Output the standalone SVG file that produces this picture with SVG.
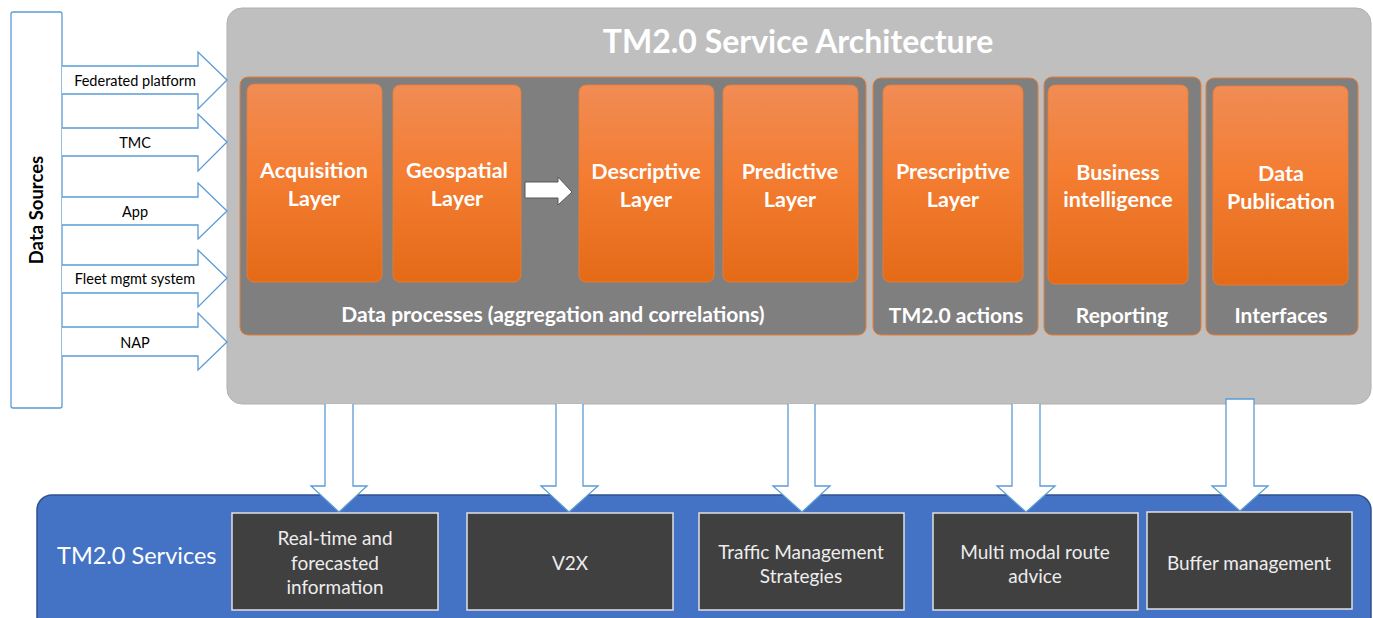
<svg xmlns="http://www.w3.org/2000/svg" width="1373" height="618" viewBox="0 0 1373 618">
<defs>
<linearGradient id="og" x1="0" y1="0" x2="0" y2="1">
<stop offset="0" stop-color="#F08C55"/>
<stop offset="0.45" stop-color="#F47D32"/>
<stop offset="1" stop-color="#E46A17"/>
</linearGradient>
<style>
.ds{fill:#fff;stroke:#5B9BD5;stroke-width:1.3}
.arr{fill:#fff;stroke:#5B9BD5;stroke-width:1.3}
.cont{fill:#7F7F7F;stroke:#ED7D31;stroke-width:1}
.or{fill:url(#og);stroke:#ED7D31;stroke-width:0.8}
.svc{fill:#404040;stroke:#E0E0E0;stroke-width:1.5}
.t{font-family:Lato,"Liberation Sans",sans-serif;text-anchor:middle;dominant-baseline:central}
.ob{fill:#fff;font-weight:bold;font-size:21.5px}
.cl{fill:#fff;font-weight:bold;font-size:21px}
.sm{fill:#000;font-size:14.5px}
.sv{fill:#EDEDED;font-size:19px}
</style>
</defs>

<g id="architecture">
<rect x="227" y="8" width="1144" height="396" rx="15" fill="#BFBFBF" stroke="#B0B0B0" stroke-width="1"/>
<text class="t" x="798" y="40" fill="#fff" font-weight="bold" font-size="32">TM2.0 Service Architecture</text>
</g>

<g id="services">
<rect x="37" y="495" width="1334" height="140" rx="15" fill="#4472C4" stroke="#2F528F" stroke-width="1.5"/>
<text class="t" x="57" y="555" fill="#fff" font-size="23.5" style="text-anchor:start">TM2.0 Services</text>
</g>

<g id="data-sources">
<rect class="ds" x="11" y="12" width="51" height="396" rx="2"/>
<text class="t" transform="translate(36 210) rotate(-90)" fill="#000" font-weight="bold" font-size="18.5">Data Sources</text>
</g>

<g id="data-processes">
<rect class="cont" x="240" y="77" width="626" height="258" rx="8"/>
<text class="t cl" x="553" y="313">Data processes (aggregation and correlations)</text>
</g>
<g id="acquisition">
<rect class="or" x="247" y="84" width="135" height="198" rx="7"/>
<text class="t ob" x="314" y="170">Acquisition</text>
<text class="t ob" x="314" y="198">Layer</text>
</g>
<g id="geospatial">
<rect class="or" x="393" y="85" width="128" height="197" rx="7"/>
<text class="t ob" x="457" y="170">Geospatial</text>
<text class="t ob" x="457" y="198">Layer</text>
</g>
<g id="descriptive">
<rect class="or" x="579" y="85" width="135" height="197" rx="7"/>
<text class="t ob" x="646" y="171">Descriptive</text>
<text class="t ob" x="646" y="199">Layer</text>
</g>
<g id="predictive">
<rect class="or" x="723" y="85" width="135" height="197" rx="7"/>
<text class="t ob" x="790" y="171">Predictive</text>
<text class="t ob" x="790" y="199">Layer</text>
</g>

<g id="tm-actions">
<rect class="cont" x="873" y="78" width="165" height="257" rx="8"/>
<text class="t cl" x="956" y="314">TM2.0 actions</text>
</g>
<g id="prescriptive">
<rect class="or" x="883" y="85" width="140" height="197" rx="7"/>
<text class="t ob" x="953" y="171">Prescriptive</text>
<text class="t ob" x="953" y="199">Layer</text>
</g>

<g id="reporting">
<rect class="cont" x="1044" y="77" width="157" height="258" rx="8"/>
<text class="t cl" x="1122" y="314">Reporting</text>
</g>
<g id="business-intelligence">
<rect class="or" x="1048" y="85" width="140" height="199" rx="7"/>
<text class="t ob" x="1118" y="172">Business</text>
<text class="t ob" x="1118" y="199">intelligence</text>
</g>

<g id="interfaces">
<rect class="cont" x="1206" y="78" width="152" height="257" rx="8"/>
<text class="t cl" x="1281" y="314">Interfaces</text>
</g>
<g id="data-publication">
<rect class="or" x="1213" y="86" width="135" height="199" rx="7"/>
<text class="t ob" x="1281" y="173">Data</text>
<text class="t ob" x="1281" y="201">Publication</text>
</g>

<g id="connectors">
<path class="arr" d="M62 66 H198 V52 L227 80 L198 109 V94 H62"/>
<path class="arr" d="M62 128 H198 V114 L227 142 L198 171 V156 H62"/>
<path class="arr" d="M62 197 H198 V183 L227 211 L198 239 V225 H62"/>
<path class="arr" d="M62 265 H198 V250 L227 278 L198 307 V293 H62"/>
<path class="arr" d="M62 327 H198 V313 L227 342 L198 370 V356 H62"/>
<path d="M525 182 H558 V177 L572 192 L558 205 V198 H525 Z" fill="#fff" stroke="#595959" stroke-width="1"/>
<path class="arr" d="M325 404 V486 H311 L339 512 L367 486 H353 V404"/>
<path class="arr" d="M556 404 V486 H541 L569 512 L598 486 H583 V404"/>
<path class="arr" d="M788 404 V486 H773 L802 512 L830 486 H815 V404"/>
<path class="arr" d="M1012 404 V486 H997 L1026 512 L1055 486 H1040 V404"/>
<path class="arr" d="M1226 399 H1254 V486 H1268 L1240 511 L1212 486 H1226 Z"/>
</g>
<g id="source-labels">
<text class="t sm" x="135" y="80">Federated platform</text>
<text class="t sm" x="135" y="142">TMC</text>
<text class="t sm" x="135" y="211">App</text>
<text class="t sm" x="135" y="278">Fleet mgmt system</text>
<text class="t sm" x="135" y="342">NAP</text>
</g>

<g id="svc-realtime">
<rect class="svc" x="232" y="513" width="206" height="97"/>
<text class="t sv" x="335" y="537">Real-time and</text>
<text class="t sv" x="335" y="562">forecasted</text>
<text class="t sv" x="335" y="586">information</text>
</g>
<g id="svc-v2x">
<rect class="svc" x="467" y="513" width="206" height="97"/>
<text class="t sv" x="570" y="562">V2X</text>
</g>
<g id="svc-traffic">
<rect class="svc" x="699" y="513" width="205" height="97"/>
<text class="t sv" x="801" y="551">Traffic Management</text>
<text class="t sv" x="801" y="575">Strategies</text>
</g>
<g id="svc-multimodal">
<rect class="svc" x="933" y="513" width="205" height="97"/>
<text class="t sv" x="1035" y="551">Multi modal route</text>
<text class="t sv" x="1035" y="575">advice</text>
</g>
<g id="svc-buffer">
<rect class="svc" x="1147" y="512" width="205" height="97"/>
<text class="t sv" x="1249" y="562">Buffer management</text>
</g>
</svg>
